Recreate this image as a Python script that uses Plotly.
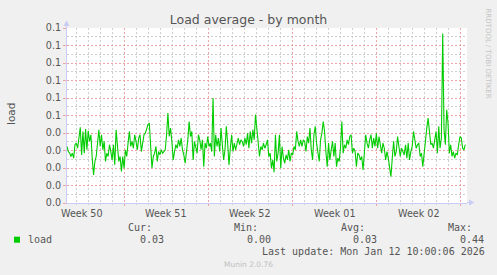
import plotly.graph_objects as go
import pandas as pd

# ---- data (load average) ----
load_part1 = [
    0.0323, 0.0294, 0.0285, 0.0266, 0.0285, 0.0256, 0.0333, 0.0342, 0.0313, 0.0371,
    0.0432, 0.0275, 0.0409, 0.0285, 0.0422, 0.0304, 0.0413, 0.0352, 0.0390, 0.0256,
    0.0160, 0.0237, 0.0266, 0.0342, 0.0419, 0.0323, 0.0390, 0.0304, 0.0352, 0.0237,
    0.0285, 0.0266, 0.0333, 0.0294, 0.0246, 0.0333, 0.0218, 0.0419, 0.0342, 0.0237,
    0.0266, 0.0180, 0.0266, 0.0199, 0.0304, 0.0266, 0.0342, 0.0409, 0.0323, 0.0352,
    0.0313, 0.0390, 0.0352, 0.0304, 0.0371, 0.0390, 0.0294, 0.0342, 0.0390, 0.0399,
    0.0428, 0.0447, 0.0457, 0.0342, 0.0199, 0.0266, 0.0285, 0.0323, 0.0237, 0.0294,
    0.0275, 0.0304, 0.0285, 0.0294, 0.0304, 0.0390, 0.0514, 0.0380, 0.0428, 0.0352,
    0.0246, 0.0294, 0.0333, 0.0313, 0.0361, 0.0323, 0.0371, 0.0304, 0.0275, 0.0227,
    0.0294, 0.0361, 0.0466, 0.0380, 0.0409, 0.0246, 0.0352, 0.0313, 0.0285, 0.0390,
    0.0361, 0.0304, 0.0361,
]
load_part2 = [
    0.0208, 0.0342, 0.0313, 0.0380, 0.0323, 0.0342, 0.0294, 0.0600, 0.0266, 0.0390,
    0.0323, 0.0371, 0.0294, 0.0428, 0.0333, 0.0246, 0.0304, 0.0438, 0.0342, 0.0218,
    0.0313, 0.0390, 0.0294, 0.0342, 0.0304, 0.0333, 0.0371, 0.0333, 0.0361, 0.0352,
    0.0323, 0.0371, 0.0333, 0.0399, 0.0313, 0.0409, 0.0342, 0.0419, 0.0361, 0.0505,
    0.0419, 0.0313, 0.0266, 0.0323, 0.0304, 0.0342, 0.0313, 0.0333, 0.0361, 0.0266,
    0.0285, 0.0199, 0.0246, 0.0176, 0.0390, 0.0237, 0.0285, 0.0390, 0.0199, 0.0323,
    0.0256, 0.0227, 0.0275, 0.0246, 0.0304, 0.0237, 0.0285, 0.0275, 0.0323, 0.0304,
    0.0409, 0.0352, 0.0323, 0.0361, 0.0323, 0.0361, 0.0352, 0.0294, 0.0380, 0.0342,
    0.0428, 0.0304, 0.0246, 0.0390, 0.0438, 0.0342, 0.0285, 0.0237, 0.0361, 0.0399,
    0.0466, 0.0409, 0.0294, 0.0208, 0.0342, 0.0246, 0.0304, 0.0352, 0.0266, 0.0342,
    0.0208,
]
load_part3 = [
    0.0256, 0.0237, 0.0313, 0.0466, 0.0285, 0.0333, 0.0313, 0.0361, 0.0333, 0.0380,
    0.0390, 0.0285, 0.0313, 0.0294, 0.0208, 0.0285, 0.0275, 0.0246, 0.0266, 0.0189,
    0.0275, 0.0390, 0.0342, 0.0313, 0.0361, 0.0390, 0.0313, 0.0371, 0.0323, 0.0399,
    0.0313, 0.0380, 0.0333, 0.0285, 0.0342, 0.0313, 0.0246, 0.0294, 0.0256, 0.0208,
    0.0151, 0.0256, 0.0352, 0.0266, 0.0294, 0.0380, 0.0333, 0.0266, 0.0313, 0.0294,
    0.0275, 0.0333, 0.0256, 0.0342, 0.0246, 0.0294, 0.0323, 0.0409, 0.0371, 0.0313,
    0.0333, 0.0342, 0.0266, 0.0285, 0.0208, 0.0294, 0.0361, 0.0428, 0.0485, 0.0380,
    0.0333, 0.0342, 0.0313, 0.0361, 0.0409, 0.0285, 0.0438, 0.0313, 0.0371, 0.0969,
    0.0419, 0.0333, 0.0533, 0.0457, 0.0285, 0.0333, 0.0266, 0.0294, 0.0256, 0.0285,
    0.0275, 0.0333, 0.0380, 0.0371, 0.0313, 0.0304, 0.0333,
]
load_values = load_part1 + load_part2 + load_part3

data_start = "2025-12-10 05:40"
data_end = "2026-01-12 09:15"
x_range = ["2025-12-10 05:40", "2026-01-12 12:40"]

week_labels = ["Week 50", "Week 51", "Week 52", "Week 01", "Week 02"]
week_mids = ["2025-12-11 12:00", "2025-12-18 12:00", "2025-12-25 12:00",
             "2026-01-01 12:00", "2026-01-08 12:00"]

y_tick_vals = [0.0, 0.01, 0.02, 0.03, 0.04, 0.05, 0.06, 0.07, 0.08, 0.09, 0.10]
y_tick_text = ["0.0", "0.0", "0.0", "0.0", "0.0", "0.1", "0.1", "0.1", "0.1", "0.1", "0.1"]
y_minor_vals = [0.005, 0.015, 0.025, 0.035, 0.045, 0.055, 0.065, 0.075, 0.085, 0.095]

stat_headers = ["Cur:", "Min:", "Avg:", "Max:"]
stat_values = ["0.03", "0.00", "0.03", "0.44"]
series_name = "load"
last_update = "Last update: Mon Jan 12 10:00:06 2026"

times = pd.date_range(data_start, data_end, periods=len(load_values))

# ---- styling ----
W, H = 497, 275
L, R, T, B = 67, 30, 28, 72
PW, PH = W - L - R, H - T - B
GREEN = "#00CC00"
MAJ = "#EDA4A4"
MIN = "#CFCFCF"
AXIS = "#C8CCF6"
TXT = "#555555"
SANS = "DejaVu Sans"
MONO = "DejaVu Sans Mono"
DASH = "2px,2px"


def px(x):
    return (x - L) / PW


def py(y):
    return (H - B - y) / PH


fig = go.Figure()
fig.add_trace(go.Scatter(x=times, y=load_values, mode="lines",
                         line=dict(color=GREEN, width=1.1), showlegend=False,
                         hoverinfo="skip"))

fig.update_layout(
    width=W, height=H,
    margin=dict(l=L, r=R, t=T, b=B),
    paper_bgcolor="#F0F0F0", plot_bgcolor="#FFFFFF",
    showlegend=False,
    title=dict(text="Load average - by month", x=0.5, xref="container", xanchor="center",
               y=1 - 19.5 / H, yanchor="middle",
               font=dict(family=SANS, size=12.5, color="#555555")),
    xaxis=dict(type="date", range=x_range, showticklabels=False,
               tick0="2025-12-15", dtick=7 * 86400000,
               showgrid=True, gridcolor=MAJ, griddash=DASH, gridwidth=1,
               ticks="outside", ticklen=2, tickcolor=MAJ,
               showline=True, linecolor=AXIS, linewidth=1, zeroline=False,
               minor=dict(tick0="2025-12-15", dtick=86400000, showgrid=True,
                          gridcolor=MIN, griddash=DASH, gridwidth=1,
                          ticks="outside", ticklen=1, tickcolor=MIN)),
    yaxis=dict(range=[0, 0.1], tickmode="array", tickvals=y_tick_vals, ticktext=y_tick_text,
               tickfont=dict(family=SANS, size=9.6, color=TXT),
               showgrid=True, gridcolor=MAJ, griddash=DASH, gridwidth=1,
               ticks="outside", ticklen=3, tickcolor=MAJ,
               showline=True, linecolor=AXIS, linewidth=1, zeroline=False,
               minor=dict(tickmode="array", tickvals=y_minor_vals, showgrid=True, gridcolor=MIN,
                          griddash=DASH, gridwidth=1, ticks="")),
)

ann = []
# week labels
for lab, mid in zip(week_labels, week_mids):
    ann.append(dict(x=mid, xref="x", y=py(213), yref="paper", text=lab, showarrow=False,
                    xanchor="center", yanchor="middle",
                    font=dict(family=SANS, size=9.6, color=TXT)))
# y axis title
ann.append(dict(x=px(10.5), xref="paper", y=py(114.5), yref="paper", text="load",
                textangle=-90, showarrow=False, xanchor="center", yanchor="middle",
                font=dict(family=SANS, size=10.5, color=TXT)))
# rrdtool credit
ann.append(dict(x=px(487.5), xref="paper", y=py(53), yref="paper", text="RRDTOOL / TOBI OETIKER",
                textangle=90, showarrow=False, xanchor="center", yanchor="middle",
                font=dict(family=SANS, size=7, color="#C4C4C4")))
# legend block
hdr_x = [126.7, 233.3, 340.0, 446.7]
val_x = [139.0, 245.7, 352.3, 459.3]
for h, hx in zip(stat_headers, hdr_x):
    ann.append(dict(x=px(hx), xref="paper", y=py(227.7), yref="paper", text=h, showarrow=False,
                    xanchor="left", yanchor="middle", borderpad=0,
                    font=dict(family=MONO, size=10, color=TXT)))
for v, vx in zip(stat_values, val_x):
    ann.append(dict(x=px(vx), xref="paper", y=py(239.5), yref="paper", text=v, showarrow=False,
                    xanchor="left", yanchor="middle", borderpad=0,
                    font=dict(family=MONO, size=10, color=TXT)))
ann.append(dict(x=px(26.7), xref="paper", y=py(239.5), yref="paper", text=series_name,
                showarrow=False, xanchor="left", yanchor="middle", borderpad=0,
                font=dict(family=MONO, size=10, color=TXT)))
ann.append(dict(x=px(261), xref="paper", y=py(251.7), yref="paper", text=last_update,
                showarrow=False, xanchor="left", yanchor="middle", borderpad=0,
                font=dict(family=MONO, size=10, color=TXT)))
ann.append(dict(x=px(248), xref="paper", y=py(264), yref="paper", text="Munin 2.0.76",
                showarrow=False, xanchor="center", yanchor="middle", borderpad=0,
                font=dict(family=SANS, size=7.5, color="#C0C0C0")))
fig.update_layout(annotations=ann)

shapes = [
    # legend colour swatch
    dict(type="rect", xref="paper", yref="paper", x0=px(14), x1=px(20), y0=py(242.7), y1=py(236.7),
         fillcolor=GREEN, line=dict(width=0)),
    # axis extensions and arrow heads
    dict(type="line", xref="paper", yref="paper", x0=px(66.5), x1=px(66.5), y0=1, y1=py(25),
         line=dict(color=AXIS, width=1)),
    dict(type="path", xref="paper", yref="paper",
         path=f"M {px(63.5)} {py(26)} L {px(66.5)} {py(20.5)} L {px(69.5)} {py(26)} Z",
         fillcolor=AXIS, line=dict(width=0)),
    dict(type="line", xref="paper", yref="paper", x0=1, x1=px(470), y0=py(202.5), y1=py(202.5),
         line=dict(color=AXIS, width=1)),
    dict(type="path", xref="paper", yref="paper",
         path=f"M {px(469)} {py(199.5)} L {px(474.5)} {py(202.5)} L {px(469)} {py(205.5)} Z",
         fillcolor=AXIS, line=dict(width=0)),
]
fig.update_layout(shapes=shapes)

fig.write_html("out.html")
